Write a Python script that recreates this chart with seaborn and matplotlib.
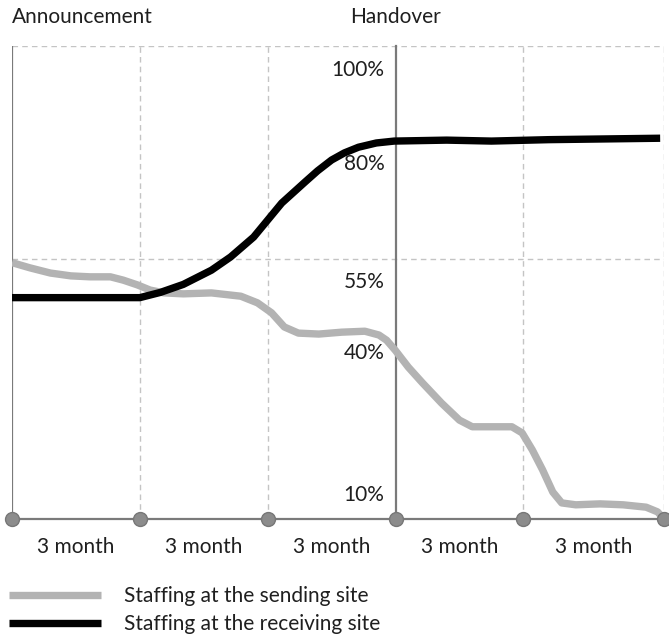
import matplotlib
matplotlib.use("Agg")
import matplotlib.pyplot as plt
import seaborn as sns
import pandas as pd

# Staffing levels (% of full staffing) over the relocation timeline, in quarters
sending_x = [0.0, 0.14, 0.30, 0.46, 0.61, 0.77, 0.87, 0.98, 1.08, 1.19, 1.34, 1.56,
             1.79, 1.92, 2.03, 2.13, 2.24, 2.40, 2.58, 2.76, 2.87, 2.93, 3.0, 3.1,
             3.21, 3.36, 3.50, 3.60, 3.75, 3.91, 3.99, 4.07, 4.15, 4.23, 4.30, 4.41,
             4.60, 4.78, 4.96, 5.05, 5.1]
sending_y = [54.2, 53.1, 52.0, 51.4, 51.2, 51.2, 50.5, 49.5, 48.4, 47.8, 47.6, 47.8,
             47.1, 45.7, 43.6, 40.6, 39.3, 39.1, 39.5, 39.7, 38.9, 37.8, 35.6, 32.1,
             28.8, 24.5, 20.9, 19.5, 19.5, 19.5, 18.2, 14.6, 10.4, 5.7, 3.4, 3.0,
             3.2, 3.0, 2.5, 1.5, 0.0]

receiving_x = [0.0, 1.0, 1.16, 1.34, 1.56, 1.71, 1.89, 2.0, 2.11, 2.29, 2.39, 2.5,
               2.6, 2.71, 2.85, 2.99, 3.4, 3.75, 4.2, 5.07]
receiving_y = [46.8, 46.8, 47.9, 49.6, 52.6, 55.4, 59.6, 63.2, 66.8, 71.2, 73.6, 75.9,
               77.4, 78.6, 79.5, 79.9, 80.1, 79.9, 80.2, 80.5]

series_names = ["Staffing at the sending site", "Staffing at the receiving site"]
series_colors = ["#b3b3b3", "#000000"]

quarter_edges = [0, 1, 2, 3, 4, 5.1]
period_labels = ["3 month"] * 5
level_ticks = [100, 80, 55, 40, 10]
grid_levels = [100, 55]
milestones = ["Announcement", "Handover"]
milestone_x = [0, 3]

df = pd.concat([
    pd.DataFrame({"quarter": sending_x, "staff": sending_y, "series": series_names[0]}),
    pd.DataFrame({"quarter": receiving_x, "staff": receiving_y, "series": series_names[1]}),
], ignore_index=True)

sns.set_style("white")
plt.rcParams["font.family"] = ["Lato", "DejaVu Sans"]

FS = 15
TXT = "#1f1f1f"
W, H = 669, 642
fig = plt.figure(figsize=(W / 100, H / 100), dpi=100)
ax = fig.add_axes([12 / W, (H - 519) / H, (664 - 12) / W, (519 - 46) / H])
ax.set_xlim(0, 5.1)
ax.set_ylim(0, 100)

grid_kw = dict(color="#c4c4c4", lw=1.0, dashes=(4, 3), zorder=1)
for gx in [1, 2, 4, 5.1]:
    ax.axvline(gx, **grid_kw)
for gy in grid_levels:
    ax.axhline(gy, **grid_kw)
ax.axvline(0, color="#7a7a7a", lw=1.6, zorder=2)

sns.lineplot(data=df, x="quarter", y="staff", hue="series", hue_order=series_names,
             palette=series_colors, estimator=None, sort=False, linewidth=5.3,
             ax=ax, zorder=3, legend=True)
for ln in ax.lines:
    ln.set_solid_capstyle("butt")
    ln.set_solid_joinstyle("round")

# axis cosmetics: y axis sits on the handover line
for s in ["top", "right"]:
    ax.spines[s].set_visible(False)
ax.spines["left"].set_position(("data", 3))
ax.spines["left"].set_color("#7a7a7a")
ax.spines["left"].set_linewidth(1.6)
ax.spines["bottom"].set_color("#7a7a7a")
ax.spines["bottom"].set_linewidth(1.6)
ax.set_xlabel("")
ax.set_ylabel("")
ax.set_xticks([])
ax.set_yticks([])

for v in level_ticks:
    ax.annotate(f"{v}%", xy=(3, v), xytext=(-8, -17), textcoords="offset points",
                ha="right", va="center", fontsize=FS, color=TXT)

# quarter markers on the time axis
ax.plot(quarter_edges, [0] * len(quarter_edges), "o", ms=10, mfc="#8c8c8c",
        mec="#777777", mew=1, clip_on=False, zorder=5)
for i, lab in enumerate(period_labels):
    mid = (quarter_edges[i] + quarter_edges[i + 1]) / 2
    ax.annotate(lab, xy=(mid, 0), xytext=(0, -20), textcoords="offset points",
                ha="center", va="center", fontsize=FS, color=TXT,
                annotation_clip=False)

ax.annotate(milestones[0], xy=(milestone_x[0], 100), xytext=(0, 21), textcoords="offset points",
            ha="left", va="center", fontsize=FS, color=TXT, annotation_clip=False)
ax.annotate(milestones[1], xy=(milestone_x[1], 100), xytext=(0, 21), textcoords="offset points",
            ha="center", va="center", fontsize=FS, color=TXT, annotation_clip=False)

leg = ax.legend(loc="upper left", bbox_to_anchor=(9 / W, 1 - 586 / H),
                bbox_transform=fig.transFigure, frameon=False, fontsize=FS,
                handlelength=4.4, handletextpad=1.1, labelspacing=0.4,
                borderaxespad=0, borderpad=0)
for t in leg.get_texts():
    t.set_color(TXT)
for h in leg.legend_handles:
    h.set_solid_capstyle("butt")

fig.savefig("out.png", dpi=100)
